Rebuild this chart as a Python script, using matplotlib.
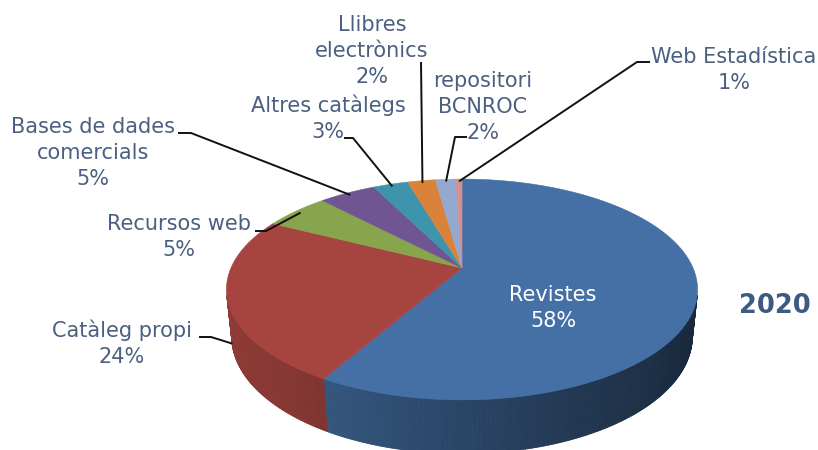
import numpy as np
import matplotlib
matplotlib.use('Agg')
import matplotlib.pyplot as plt
from matplotlib.patches import Polygon
from matplotlib.colors import to_rgb

# ---------------- data ----------------
categories = ['Revistes', 'Catàleg propi', 'Recursos web', 'Bases de dades\ncomercials',
              'Altres catàlegs', 'Llibres\nelectrònics', 'repositori\nBCNROC', 'Web Estadística']
values = [58.3, 24.2, 5.4, 4.7, 2.9, 2.3, 1.7, 0.5]
pct_labels = ['58%', '24%', '5%', '5%', '3%', '2%', '2%', '1%']
colors = ['#4470A5', '#A6443F', '#88A44C', '#6F5591', '#3E94AC', '#DA823A', '#94A8D0', '#D4908D']
year = '2020'

# ---------------- layout ----------------
W, H = 818, 450
fig = plt.figure(figsize=(W / 100, H / 100), dpi=100)
ax = fig.add_axes([0, 0, 1, 1])
ax.set_xlim(0, W)
ax.set_ylim(H, 0)
ax.axis('off')

phi = np.deg2rad(26.75)
s, c = np.sin(phi), np.cos(phi)
d = 4.59
S = 236 * d
Sx = S * 0.979
cx, cy = 462, 268
t = 0.225


def proj(x, y, z):
    x = np.asarray(x, float)
    z = np.asarray(z, float)
    y = np.asarray(y, float) * np.ones_like(x)
    depth = d - y * s + z * c
    sx = x / depth
    sy = (y * c + z * s) / depth
    return cx + Sx * sx, cy - S * sy


def rim(theta_deg, r=1.0, y=0.0):
    th = np.deg2rad(theta_deg)
    return proj(r * np.cos(th), y, r * np.sin(th))


vals = np.array(values, float)
frac = vals / vals.sum()
cum = np.concatenate([[0], np.cumsum(frac)])
th_start = 90 - 360 * cum[:-1]
th_end = 90 - 360 * cum[1:]

# visible side range
lim = np.rad2deg(np.arcsin(1 / (d * c)))
vis_lo, vis_hi = -180 + lim, -lim

# sides
for i in range(len(values)):
    lo = max(th_end[i], vis_lo)
    hi = min(th_start[i], vis_hi)
    if lo >= hi:
        continue
    n = max(2, int((hi - lo) / 0.5) + 1)
    ths = np.linspace(lo, hi, n)
    base = np.array(to_rgb(colors[i]))
    for a, b in zip(ths[:-1], ths[1:]):
        xa, ya = rim(a)
        xb, yb = rim(b)
        xa2, ya2 = rim(a, y=-t)
        xb2, yb2 = rim(b, y=-t)
        xm = (xa + xb) / 2
        f = np.clip(0.85 - (xm - 240) * 0.00105, 0.35, 0.95)
        col = base * f
        poly = Polygon([(xa, ya), (xb, yb), (xb2, yb2), (xa2, ya2)], closed=True,
                       facecolor=col, edgecolor=col, lw=0.6)
        ax.add_patch(poly)

# top faces
for i in range(len(values)):
    n = max(3, int(abs(th_start[i] - th_end[i]) * 2))
    ths = np.linspace(th_start[i], th_end[i], n)
    xs, ys = rim(ths)
    pts = [(cx, cy)] + list(zip(xs, ys))
    ax.add_patch(Polygon(pts, closed=True, facecolor=colors[i], edgecolor=colors[i], lw=0.4))

# ---------------- labels ----------------
txt_col = '#4B6080'
fs = 15
label_pos = [(553, 308), (122, 343), (179, 237), (93, 153), (328, 118), (372, 51), (483, 107), (734, 70)]
for i, (lx, ly) in enumerate(label_pos):
    txt = categories[i] + '\n' + pct_labels[i]
    col = 'white' if i == 0 else txt_col
    ax.text(lx, ly, txt, ha='center', va='center', fontsize=fs, color=col,
            family='DejaVu Sans', linespacing=1.37)

ax.text(775, 306, year, ha='center', va='center', fontsize=18.5, fontweight='bold',
        color='#3D5A80', family='DejaVu Sans')

# leader lines
mid = (th_start + th_end) / 2
knees = {
    1: [(199, 337), (211, 337)],
    2: [(255, 231), (266, 231)],
    3: [(178, 133), (191, 133)],
    4: [(344, 138), (353, 138)],
    5: [(421, 62)],
    6: [(467, 137), (455, 137)],
    7: [(650, 62), (637, 62)],
}
for i, pts in knees.items():
    if i == 1:
        ax_, ay_ = rim(mid[i], r=1.0, y=-0.9 * t)
    else:
        ax_, ay_ = rim(mid[i], r=0.97)
    xs = [p[0] for p in pts] + [float(ax_)]
    ys = [p[1] for p in pts] + [float(ay_)]
    ax.plot(xs, ys, color='#111111', lw=1.4, solid_capstyle='butt')

fig.savefig('out.png', dpi=100)
